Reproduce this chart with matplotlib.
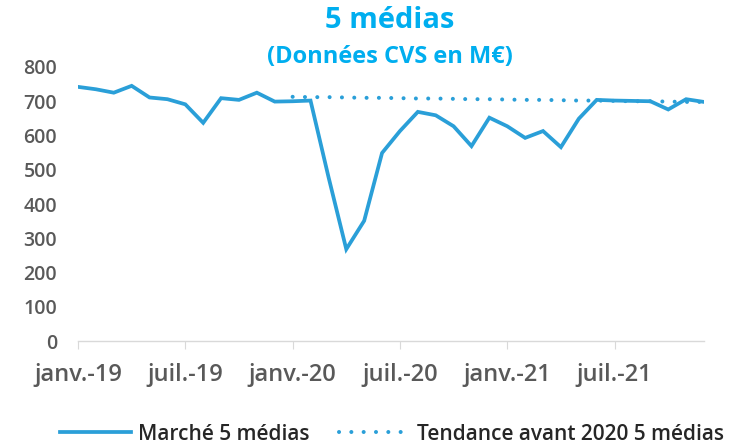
import matplotlib
matplotlib.use("Agg")
import matplotlib.pyplot as plt
from matplotlib.lines import Line2D

months = list(range(36))  # Jan 2019 .. Dec 2021
marche = [742, 735, 725, 745, 711, 706, 691, 637, 709, 704, 725, 699,
          700, 702, 480, 268, 351, 549, 613, 669, 659, 627, 569, 652,
          627, 593, 613, 566, 649, 704, 702, 701, 700, 676, 706, 698]
trend_months = list(range(12, 36))
tendance = [713, 712, 712, 711, 710, 710, 709, 708, 708, 707, 706, 706,
            705, 704, 704, 703, 702, 702, 701, 700, 700, 699, 698, 698]
tick_pos = [0, 6, 12, 18, 24, 30]
tick_labels = ["janv.-19", "juil.-19", "janv.-20", "juil.-20", "janv.-21", "juil.-21"]
y_ticks = [0, 100, 200, 300, 400, 500, 600, 700, 800]

plt.rcParams['font.family'] = ['Open Sans', 'DejaVu Sans']
W, H = 754, 448
fig = plt.figure(figsize=(W/100, H/100), dpi=100)
ax = fig.add_axes([78/W, 1-341/H, (704-78)/W, (341-67)/H])

blue = '#2a9fd8'
dots = (0, (0.01, 3.05))
ax.plot(months, marche, color=blue, lw=2.7, solid_joinstyle='miter', zorder=3)
ax.plot(trend_months, tendance, color=blue, lw=2.9, linestyle=dots,
        dash_capstyle='round', zorder=2)

ax.set_xlim(0, 35)
ax.set_ylim(0, 800)
for s in ['top', 'right', 'left']:
    ax.spines[s].set_visible(False)
ax.spines['bottom'].set_color('#d9d9d9')
ax.spines['bottom'].set_linewidth(1)
ax.set_xticks(tick_pos)
ax.set_xticklabels(tick_labels, fontsize=17, fontweight='semibold', color='#595959')
ax.set_yticks(y_ticks)
ax.set_yticklabels([str(v) for v in y_ticks], fontsize=14, fontweight='semibold', color='#595959')
ax.tick_params(axis='x', direction='out', length=6, color='#d9d9d9', pad=10)
ax.tick_params(axis='y', length=0, pad=15)

fig.text(390/W, 1-21/H, "5 médias", ha='center', va='center', fontsize=21,
         fontweight='bold', color='#00aeef')
fig.text(390/W, 1-57/H, "(Données CVS en M€)", ha='center', va='center', fontsize=17,
         fontweight='bold', color='#00aeef')

handles = [Line2D([0], [0], color=blue, lw=2.7),
           Line2D([0], [0], color=blue, lw=2.9, linestyle=dots, dash_capstyle='round')]
leg = fig.legend(handles, ["Marché 5 médias", "Tendance avant 2020 5 médias"],
                 loc='center', bbox_to_anchor=(392/W, 1-434/H), ncol=2, frameon=False,
                 handlelength=3.4, handletextpad=0.35, columnspacing=1.4,
                 prop={'family': ['Open Sans', 'DejaVu Sans'], 'size': 15, 'weight': 'semibold'})
for t in leg.get_texts():
    t.set_color('#262626')

fig.savefig("out.png", dpi=100)
